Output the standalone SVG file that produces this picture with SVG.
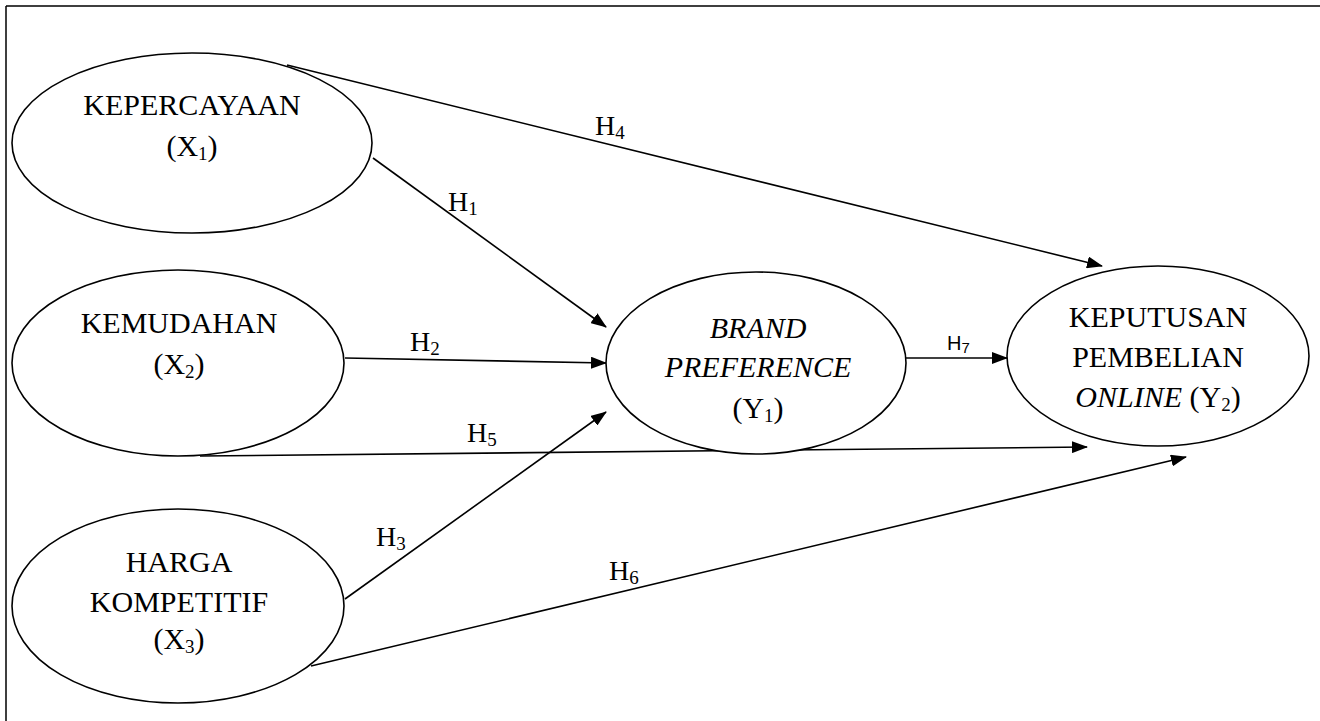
<svg xmlns="http://www.w3.org/2000/svg" width="1320" height="721" viewBox="0 0 1320 721">
<style>
.n{fill:#fff;stroke:#000;stroke-width:1.6}
.t{font-family:"Liberation Serif","Times New Roman",serif;font-size:30px;fill:#000;text-anchor:middle}
.l{font-family:"Liberation Serif","Times New Roman",serif;font-size:28px;fill:#000}
.s{font-size:19px}
.c{stroke:#000;stroke-width:1.6;fill:none;marker-end:url(#ah)}
.i{font-style:italic}
</style>
<defs>
<marker id="ah" markerWidth="16" markerHeight="12" refX="15" refY="6" orient="auto" markerUnits="userSpaceOnUse">
<path d="M0,0 L16,6 L0,12 Z" fill="#000"/>
</marker>
</defs>
<rect width="1320" height="721" fill="#fff"/>
<path d="M6,6 H1320 M6,6 V721" stroke="#000" stroke-width="1.5" fill="none"/>
<g id="connectors">
<line class="c" x1="287" y1="65" x2="1102" y2="266"/>
<line class="c" x1="373" y1="158" x2="606" y2="327"/>
<line class="c" x1="345" y1="358" x2="606" y2="363"/>
<line class="c" x1="200" y1="456" x2="1087" y2="447"/>
<line class="c" x1="345" y1="599" x2="606" y2="412"/>
<line class="c" x1="311" y1="666" x2="1186" y2="457"/>
<line class="c" x1="906" y1="358" x2="1007" y2="358"/>
<text class="l" x="595" y="135">H<tspan class="s" dy="4">4</tspan></text>
<text class="l" x="448" y="211">H<tspan class="s" dy="4">1</tspan></text>
<text class="l" x="410" y="351">H<tspan class="s" dy="4">2</tspan></text>
<text class="l" x="467" y="442">H<tspan class="s" dy="4">5</tspan></text>
<text class="l" x="376" y="546">H<tspan class="s" dy="4">3</tspan></text>
<text class="l" x="609" y="580">H<tspan class="s" dy="4">6</tspan></text>
<text x="947" y="350" font-family="'Liberation Sans',Arial,sans-serif" font-size="20">H<tspan font-size="15" dy="3">7</tspan></text>
</g>
<g id="x1">
<ellipse class="n" cx="192" cy="143" rx="180" ry="90"/>
<text class="t" x="192" y="115">KEPERCAYAAN</text>
<text class="t" x="192" y="156">(X<tspan class="s" dy="4">1</tspan><tspan dy="-4">)</tspan></text>
</g>
<g id="x2">
<ellipse class="n" cx="178" cy="363" rx="166" ry="93"/>
<text class="t" x="179" y="333">KEMUDAHAN</text>
<text class="t" x="179" y="374">(X<tspan class="s" dy="4">2</tspan><tspan dy="-4">)</tspan></text>
</g>
<g id="x3">
<ellipse class="n" cx="178" cy="606" rx="166" ry="97"/>
<text class="t" x="179" y="572">HARGA</text>
<text class="t" x="179" y="612">KOMPETITIF</text>
<text class="t" x="179" y="649">(X<tspan class="s" dy="4">3</tspan><tspan dy="-4">)</tspan></text>
</g>
<g id="y1">
<ellipse class="n" cx="756" cy="363" rx="150" ry="91"/>
<text class="t i" x="758" y="338">BRAND</text>
<text class="t i" x="758" y="377">PREFERENCE</text>
<text class="t" x="758" y="418">(Y<tspan class="s" dy="4">1</tspan><tspan dy="-4">)</tspan></text>
</g>
<g id="y2">
<ellipse class="n" cx="1158" cy="356" rx="151" ry="90"/>
<text class="t" x="1158" y="327">KEPUTUSAN</text>
<text class="t" x="1158" y="367">PEMBELIAN</text>
<text class="t" x="1158" y="407"><tspan class="i">ONLINE</tspan> (Y<tspan class="s" dy="4">2</tspan><tspan dy="-4">)</tspan></text>
</g>
</svg>
